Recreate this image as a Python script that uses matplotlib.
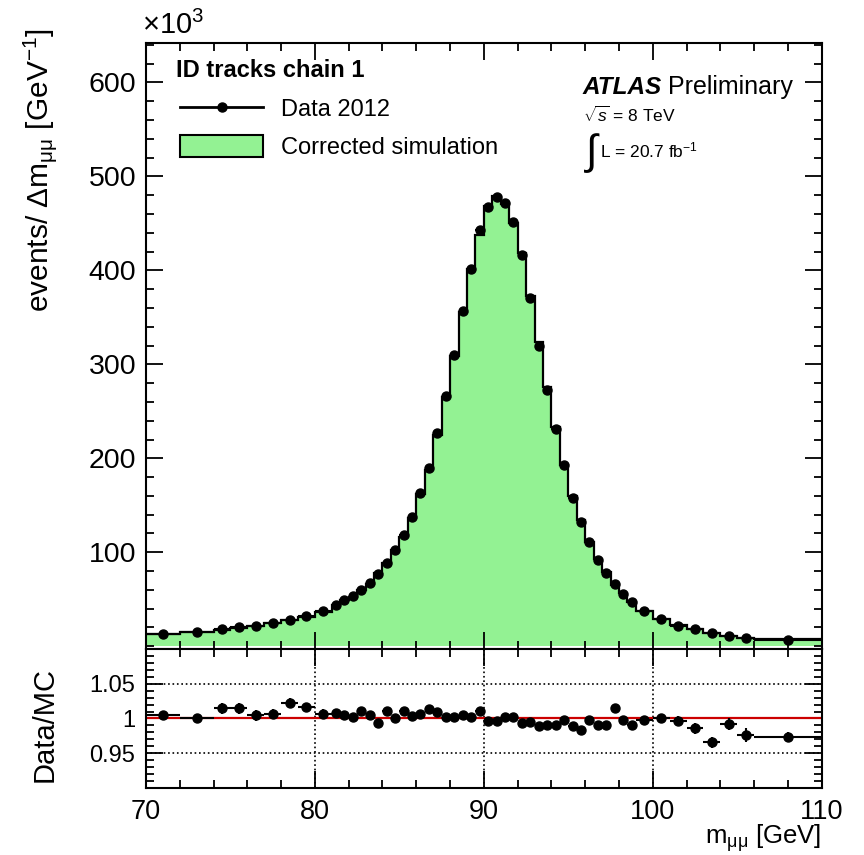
import numpy as np
import matplotlib
matplotlib.use("Agg")
import matplotlib.pyplot as plt
from matplotlib.ticker import MultipleLocator, FixedLocator
from matplotlib.patches import Patch
from matplotlib.lines import Line2D

plt.rcParams['font.family'] = ['Liberation Sans', 'DejaVu Sans']
plt.rcParams['mathtext.fontset'] = 'custom'
plt.rcParams['mathtext.rm'] = 'Liberation Sans'
plt.rcParams['mathtext.it'] = 'Liberation Sans:italic'

# bin edges in GeV (variable width)
edges = [70, 72, 74, 75, 76, 77, 78, 79, 80, 81,
         81.5, 82, 82.5, 83, 83.5, 84, 84.5, 85, 85.5, 86,
         86.5, 87, 87.5, 88, 88.5, 89, 89.5, 90, 90.5, 91,
         91.5, 92, 92.5, 93, 93.5, 94, 94.5, 95, 95.5, 96,
         96.5, 97, 97.5, 98, 98.5, 99,
         100, 101, 102, 103, 104, 105, 106, 110]

# data 2012, events / GeV in units of 10^3
data = [13, 15, 18, 20, 22, 25, 28, 32, 37,
        44, 49, 53, 60, 67, 77, 89, 102, 118, 137,
        163, 190, 227, 266, 310, 357, 402, 443, 467, 478,
        472, 451, 416, 371, 320, 273, 231, 193, 158, 132,
        111, 92, 78, 66, 56, 47,
        37, 29, 22, 18, 14, 11, 8.5, 7]

# Data/MC ratio and its uncertainty
ratio = [1.0045, 1.001, 1.015, 1.015, 1.0045, 1.007, 1.023, 1.017, 1.007,
         1.008, 1.0045, 1.002, 1.011, 1.0045, 0.993, 1.011, 1.001, 1.011, 1.003,
         1.007, 1.014, 1.009, 1.002, 1.002, 1.0045, 1.002, 1.011, 0.997, 0.997,
         1.002, 1.002, 0.994, 0.995, 0.989, 0.990, 0.991, 0.998, 0.989, 0.983,
         0.998, 0.991, 0.991, 1.015, 0.998, 0.990,
         0.998, 1.000, 0.997, 0.986, 0.966, 0.992, 0.976, 0.974]
ratio_err = [0.006, 0.006, 0.008, 0.008, 0.008, 0.007, 0.007, 0.006, 0.006,
             0.006, 0.006, 0.006, 0.005, 0.005, 0.005, 0.005, 0.004, 0.004, 0.004,
             0.004, 0.003, 0.003, 0.003, 0.003, 0.003, 0.003, 0.003, 0.003, 0.003,
             0.003, 0.003, 0.003, 0.003, 0.003, 0.003, 0.003, 0.003, 0.004, 0.004,
             0.004, 0.005, 0.005, 0.006, 0.006, 0.007,
             0.006, 0.006, 0.007, 0.008, 0.008, 0.009, 0.010, 0.007]

edges = np.array(edges)
data = np.array(data)
ratio = np.array(ratio)
centers = 0.5 * (edges[1:] + edges[:-1])
halfw = 0.5 * np.diff(edges)
mc = data / ratio

green = '#93f293'

fig = plt.figure(figsize=(8.64, 8.55), dpi=100)
ax = fig.add_axes([0.169, 0.2409, 0.782, 0.7088])
rax = fig.add_axes([0.169, 0.0784, 0.782, 0.1625], sharex=ax)

# main panel
ax.stairs(mc, edges, fill=True, color=green, zorder=1)
ax.stairs(mc, edges, color='black', lw=1.6, baseline=None, zorder=2)
ax.errorbar(centers, data, xerr=halfw, fmt='o', color='black', ms=6.5,
            elinewidth=1.5, capsize=0, zorder=3)
ax.set_xlim(70, 110)
ax.set_ylim(-3, 642)

for a in (ax, rax):
    for s in a.spines.values():
        s.set_linewidth(1.5)
    a.tick_params(which='both', direction='in', top=True, right=True, width=1.3)
    a.tick_params(which='major', length=12)
    a.tick_params(which='minor', length=6)

ax.xaxis.set_major_locator(MultipleLocator(10))
ax.xaxis.set_minor_locator(MultipleLocator(2))
ax.yaxis.set_major_locator(FixedLocator([100, 200, 300, 400, 500, 600]))
ax.yaxis.set_minor_locator(MultipleLocator(20))
ax.tick_params(axis='x', labelbottom=False)
ax.tick_params(axis='y', pad=7, labelsize=20.5)

# ratio panel
rax.axhline(1.0, color='#cc0000', lw=1.6, zorder=2)
rax.errorbar(centers, ratio, xerr=halfw, yerr=ratio_err, fmt='o', color='black',
             ms=6.5, elinewidth=1.5, capsize=0, zorder=3)
rax.set_ylim(0.9, 1.1)
rax.yaxis.set_major_locator(FixedLocator([0.95, 1.0, 1.05]))
rax.yaxis.set_minor_locator(MultipleLocator(0.01))
rax.set_yticklabels(['0.95', '1', '1.05'])
rax.grid(True, which='major', ls=':', color='black', lw=1.2)
rax.tick_params(axis='y', pad=8, labelsize=17)
rax.tick_params(axis='x', pad=8, labelsize=19.5)

# labels
fig.text(0.046, 1 - 28 / 855, r'events/ $\Delta$m$_{\mathrm{\mu\mu}}$ [GeV$^{-1}$]',
         rotation=90, ha='center', va='top', fontsize=21.5)
fig.text(0.052, 1 - 724 / 855, 'Data/MC', rotation=90, ha='center', va='center',
         fontsize=21)
fig.text(0.951, 1 - 838 / 855, r'm$_{\mathrm{\mu\mu}}$ [GeV]', ha='right',
         va='center', fontsize=18.5)
fig.text(0.164, 1 - 25 / 855, r'$\times$10$^{3}$', ha='left', va='center', fontsize=21)

# annotations
ax.text(0.044, 0.955, 'ID tracks chain 1', transform=ax.transAxes, fontsize=17,
        fontweight='bold', ha='left', va='center')
ax.text(0.646, 0.927, 'ATLAS', transform=ax.transAxes, fontsize=17.5,
        fontweight='bold', fontstyle='italic', ha='left', va='center')
ax.text(0.772, 0.927, 'Preliminary', transform=ax.transAxes, fontsize=18,
        ha='left', va='center')
ax.text(0.6465, 0.881, r'$\sqrt{s}$ = 8 TeV', transform=ax.transAxes, fontsize=12.5,
        ha='left', va='center')
ax.text(0.648, 0.818, r'$\int$', transform=ax.transAxes, fontsize=30,
        ha='left', va='center')
ax.text(0.672, 0.823, r'L = 20.7 fb$^{-1}$', transform=ax.transAxes,
        fontsize=12.5, ha='left', va='center')

handles = [Line2D([], [], color='black', marker='o', ms=6.5, lw=2),
           Patch(facecolor=green, edgecolor='black', lw=1.5)]
ax.legend(handles, ['Data 2012', 'Corrected simulation'], loc='upper left',
          bbox_to_anchor=(0.037, 0.926), borderaxespad=0, frameon=False,
          fontsize=17, handlelength=3.5, handleheight=1.05, labelspacing=0.6,
          handletextpad=0.75)

fig.savefig('out.png', dpi=100)
